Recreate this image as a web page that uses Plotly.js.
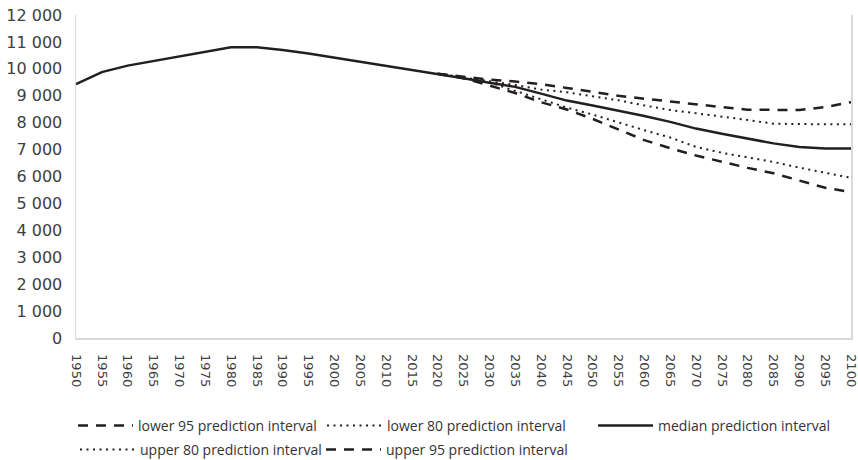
<!DOCTYPE html>
<html>
<head>
<meta charset="utf-8">
<script src="https://cdn.plot.ly/plotly-3.0.1.min.js"></script>
<style>html,body{margin:0;padding:0;background:#fff;}#chart{width:858px;height:460px;}</style>
</head>
<body>
<div id="chart"></div>
<script>
const years = [1950,1955,1960,1965,1970,1975,1980,1985,1990,1995,2000,2005,2010,2015,2020,2025,2030,2035,2040,2045,2050,2055,2060,2065,2070,2075,2080,2085,2090,2095,2100];
const projYears = [2020,2025,2030,2035,2040,2045,2050,2055,2060,2065,2070,2075,2080,2085,2090,2095,2100];
const median = [9430,9880,10120,10290,10460,10620,10800,10800,10700,10570,10420,10270,10110,9960,9820,9650,9480,9330,9080,8820,8640,8450,8250,8030,7780,7590,7410,7230,7100,7040,7040];
const lower95 = [9820,9650,9380,9100,8760,8490,8140,7760,7350,7050,6780,6550,6320,6120,5850,5580,5420];
const lower80 = [9820,9660,9500,9180,8870,8560,8300,8000,7720,7450,7100,6880,6720,6540,6330,6150,5950];
const upper80 = [9820,9690,9540,9400,9230,9130,8980,8830,8640,8470,8350,8230,8100,7960,7940,7940,7940];
const upper95 = [9820,9720,9600,9530,9430,9290,9150,9000,8890,8780,8680,8580,8480,8470,8470,8580,8760];
const names = ['lower 95 prediction interval','lower 80 prediction interval','median prediction interval','upper 80 prediction interval','upper 95 prediction interval'];

const ink = '#231f20';
const dashPat = '10px,8px';
const dotPat = '2px,4.5px';

const traces = [
  {x: projYears, y: lower95, name: names[0], legend: 'legend', line: {color: ink, width: 2.5, dash: dashPat}},
  {x: projYears, y: lower80, name: names[1], legend: 'legend2', line: {color: ink, width: 2, dash: dotPat}},
  {x: years, y: median, name: names[2], legend: 'legend3', line: {color: ink, width: 2.5}},
  {x: projYears, y: upper80, name: names[3], legend: 'legend4', line: {color: ink, width: 2, dash: dotPat}},
  {x: projYears, y: upper95, name: names[4], legend: 'legend5', line: {color: ink, width: 2.5, dash: dashPat}}
].map(t => Object.assign({type: 'scatter', mode: 'lines', hoverinfo: 'skip'}, t));

const legendFont = {family: 'Open Sans, sans-serif', size: 14, color: '#333'};
function leg(textStart, rowCenter) {
  return {
    orientation: 'h', xref: 'container', yref: 'container',
    x: (textStart - 65) / 858, y: 1 - (rowCenter - 17) / 460,
    xanchor: 'left', yanchor: 'top', font: legendFont, itemwidth: 55,
    bgcolor: 'rgba(0,0,0,0)', borderwidth: 0
  };
}

const layout = {
  width: 858, height: 460,
  margin: {l: 76, r: 7, t: 15, b: 122},
  paper_bgcolor: '#fff', plot_bgcolor: '#fff',
  separators: '. ',
  showlegend: true,
  font: {family: 'DejaVu Sans, sans-serif', color: '#404040'},
  xaxis: {
    range: [1950, 2100], tickmode: 'array', tickvals: years, ticktext: years.map(String),
    tickangle: 90, tickfont: {size: 13, color: '#404040'}, ticklabeloverflow: 'allow',
    showgrid: false, zeroline: false, showline: true, linecolor: '#d9d9d9', linewidth: 1.5,
    ticks: '', ticklabelstandoff: 12
  },
  yaxis: {
    range: [0, 12000], dtick: 1000, tickformat: ',d', tickfont: {size: 16, color: '#404040'},
    showgrid: false, zeroline: false, showline: true, mirror: true, linecolor: '#d9d9d9', linewidth: 1.5,
    ticks: '', ticklabelstandoff: 9
  },
  legend: leg(138, 427),
  legend2: leg(387, 427),
  legend3: leg(658, 427),
  legend4: leg(140, 451),
  legend5: leg(386, 451)
};

Plotly.newPlot('chart', traces, layout, {staticPlot: true, displayModeBar: false});
</script>
</body>
</html>
